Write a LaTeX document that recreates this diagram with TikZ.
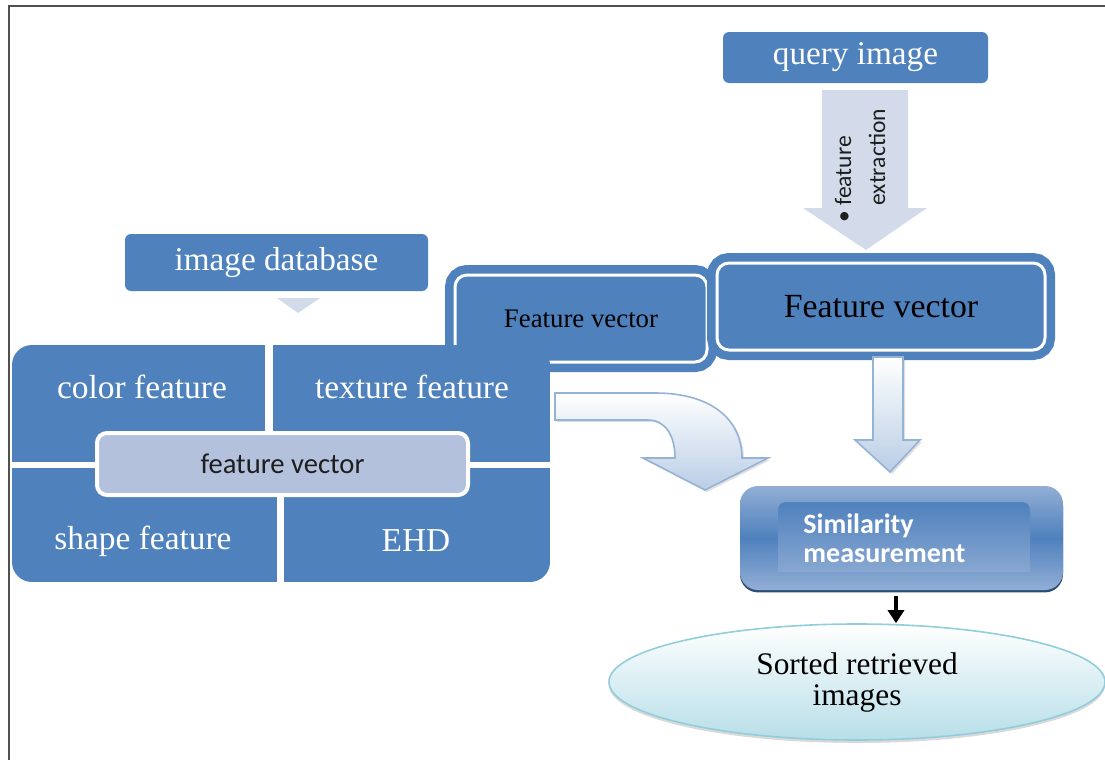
\documentclass[tikz,border=0pt]{standalone}
\usepackage{fontspec}
\setmainfont{Liberation Serif}
\newfontfamily\carlitoFont{Carlito}
\usepackage{tikz}
\usetikzlibrary{arrows.meta, shapes.geometric, shadows, positioning}
\definecolor{officeBlue}{RGB}{79,129,189}
\definecolor{lavFill}{RGB}{211,219,234}
\definecolor{fvLight}{RGB}{179,193,220}
\definecolor{arrowEdge}{RGB}{149,179,215}
\definecolor{arrowLow}{RGB}{185,205,229}
\definecolor{simLight}{RGB}{146,174,213}
\definecolor{simDark}{RGB}{44,77,117}
\definecolor{ellFill}{RGB}{183,222,232}
\definecolor{ellEdge}{RGB}{146,205,220}
\definecolor{frameGray}{RGB}{80,80,80}
\definecolor{textDark}{RGB}{30,30,30}

\begin{document}
\begin{tikzpicture}[
    x=0.5pt, y=-0.5pt,
    >=Stealth,
    % Blue header box (query / database)
    headB/.style={
        rectangle, rounded corners=3pt,
        fill=officeBlue, text=white,
        font=\fontsize{16.6}{20}\selectfont, inner sep=0pt
    },
    % Blue box with white inner ring (Feature vector)
    ringB/.style={
        rectangle, rounded corners=6pt,
        fill=officeBlue, draw=white, line width=1.5pt,
        preaction={draw=officeBlue, line width=10pt},
        text=black, inner sep=0pt
    },
    % Matrix quadrant
    quadB/.style={rectangle, fill=officeBlue, inner sep=0pt},
    quadT/.style={text=white, font=\fontsize{16.7}{20}\selectfont, inner sep=0pt},
    % Light centre box of the matrix
    centreL/.style={
        rectangle, rounded corners=5pt,
        fill=fvLight, draw=white, line width=2pt,
        text=textDark, font=\carlitoFont\fontsize{14.3}{17}\selectfont
    },
    % Block arrows
    blockA/.style={
        top color=white, bottom color=arrowLow, draw=arrowEdge, line width=0.8pt,
        drop shadow={shadow xshift=1pt, shadow yshift=-1pt, opacity=0.25}
    }
]
\useasboundingbox (0,0) rectangle (1105,760);
% Page frame (only top and left edges show)
\draw[draw=frameGray, line width=1pt] (1105,6) -- (9,6) -- (9,760);

% ── Query side ───────────────────────────────────────────────
\node[headB, minimum width=132.5pt, minimum height=25.5pt]
    (query) at (855.5, 57.5) {query image};
\fill[lavFill] (822,90) -- (908,90) -- (908,208) -- (927,208)
    -- (866,250) -- (803,208) -- (822,208) -- cycle;
\node[rotate=90, anchor=west, align=left, inner sep=0pt, text=textDark,
      font=\carlitoFont\fontsize{11.8}{17}\selectfont]
    (fxlbl) at (860, 206) {\llap{\textbullet\ }feature\\extraction};

% ── Database side ────────────────────────────────────────────
\node[headB, minimum width=151.5pt, minimum height=28.5pt]
    (imgdb) at (276.5, 262.5) {image database};
\fill[lavFill] (277,298) -- (320,298) -- (298,313) -- cycle;

% ── Feature vector boxes ─────────────────────────────────────
\node[ringB, minimum width=126pt, minimum height=43.5pt,
      font=\fontsize{13.4}{16}\selectfont]
    (fvL) at (581, 318.5) {Feature vector};
\node[ringB, minimum width=164pt, minimum height=43.5pt,
      font=\fontsize{16.9}{20}\selectfont]
    (fvR) at (881, 306.5) {Feature vector};

% ── Feature matrix (2x2) ─────────────────────────────────────
\begin{scope}
    \clip[rounded corners=10pt] (12,345) rectangle (550,582);
    \node[quadB, minimum width=126.5pt, minimum height=58.5pt] (color) at (138.5, 403.5) {};
    \node[quadB, minimum width=138.5pt, minimum height=58.5pt] (texture) at (411.5, 403.5) {};
    \node[quadB, minimum width=132.5pt, minimum height=57pt] (shape) at (144.5, 525) {};
    \node[quadB, minimum width=133pt, minimum height=57pt] (ehd) at (417, 525) {};
\end{scope}
\node[quadT] (colorlbl) at (142, 387) {color feature};
\node[quadT] (texturelbl) at (412, 387) {texture feature};
\node[quadT] (shapelbl) at (143, 541) {shape feature};
\node[quadT] (ehdlbl) at (416, 541) {EHD};
\node[centreL, minimum width=185.5pt, minimum height=31pt]
    (fvC) at (282.5, 464) {feature vector};

% ── Block arrows to similarity ───────────────────────────────
\shade[blockA] (555,393) -- (655,393) .. controls (712,393) and (742,420) .. (742,458)
    -- (768,458) -- (705,490) -- (643,458) -- (675,458)
    .. controls (675,435) and (665,420) .. (648,420) -- (555,420) -- cycle;
\shade[blockA] (873,357) -- (903,357) -- (903,440) -- (920,440)
    -- (890,472) -- (855,440) -- (873,440) -- cycle;

% ── Similarity measurement ───────────────────────────────────
\node[rectangle, rounded corners=9pt, minimum width=161.5pt, minimum height=52pt,
      top color=simLight, bottom color=simLight, middle color=officeBlue,
      drop shadow={shadow xshift=0pt, shadow yshift=-1.2pt, fill=simDark, opacity=1}]
    (sim) at (901.5, 538) {};
\shade[top color=officeBlue, bottom color=simLight!85!officeBlue, rounded corners=4pt]
    (778,572) -- (778,502) -- (1030,502) -- (1030,572);
\node[anchor=west, align=left, inner sep=0pt, text=white,
      font=\carlitoFont\bfseries\fontsize{14}{14.5}\selectfont]
    (simlbl) at (803, 538.5) {Similarity\\measurement};

% ── Result ───────────────────────────────────────────────────
\node[ellipse, minimum width=248pt, minimum height=58pt,
      top color=white, bottom color=ellFill, draw=ellEdge, line width=0.8pt,
      drop shadow={shadow xshift=0pt, shadow yshift=-1.5pt, opacity=0.3},
      align=center, font=\fontsize{15.7}{15.5}\selectfont]
    (sorted) at (857, 682) {Sorted retrieved\\images};
\coordinate (simout) at (896, 596);
\draw[-{Triangle[width=8pt, length=6.5pt]}, line width=1.6pt]
    (simout) -- (simout |- sorted.north);
\end{tikzpicture}
\end{document}
